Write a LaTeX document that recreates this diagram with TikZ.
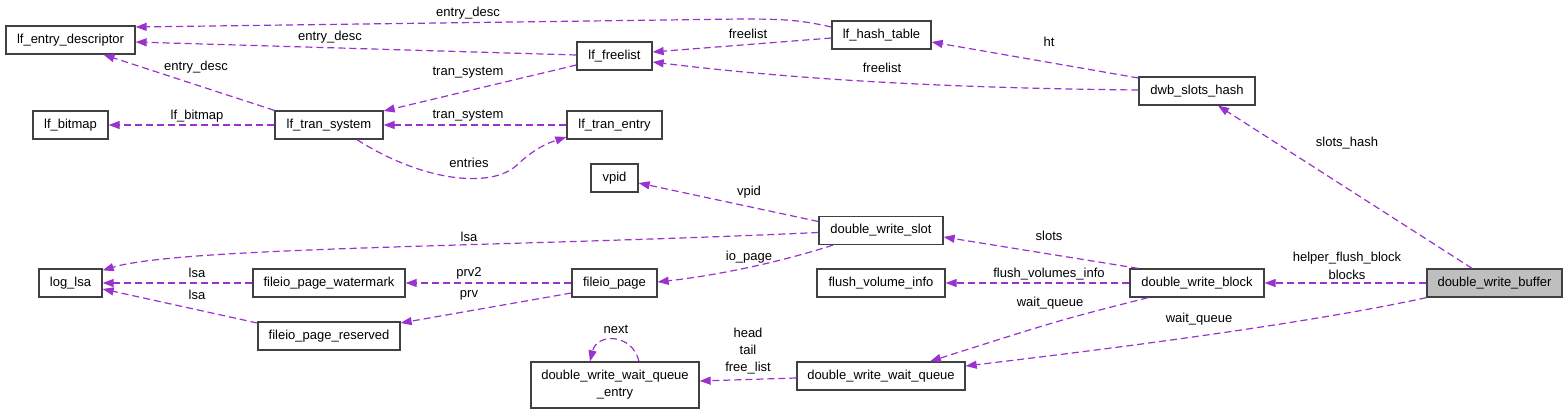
\documentclass[tikz,border=0pt]{standalone}
\usepackage{fontspec}
\setmainfont{Liberation Sans}
\usetikzlibrary{arrows.meta,calc}
\definecolor{edgec}{HTML}{9A32CD}
\definecolor{boxc}{HTML}{404040}
\definecolor{hl}{HTML}{BFBFBF}
\begin{document}
\begin{tikzpicture}[x=1pt,y=-1pt,font=\fontsize{13}{15}\selectfont,
  box/.style={draw=boxc,line width=1.3pt,minimum height=28pt,inner sep=0pt,fill=white},
  edge/.style={draw=edgec,line width=1.2pt,dash pattern=on 7pt off 4pt,-{Triangle[length=11pt,width=8pt,fill=edgec]}},
  lbl/.style={inner sep=0pt,text=black,align=center}]
\useasboundingbox[fill=white] (0,0) rectangle (1568,413);
% nodes
\node[box,minimum width=129pt] (led) at (70.5,40) {lf\_entry\_descriptor};
\node[box,minimum width=75pt] (lbm) at (70.5,125) {lf\_bitmap};
\node[box,minimum width=108pt] (lts) at (329,125) {lf\_tran\_system};
\node[box,minimum width=75pt] (lfl) at (614.5,56) {lf\_freelist};
\node[box,minimum width=95pt] (lte) at (614.5,125) {lf\_tran\_entry};
\node[box,minimum width=99pt] (lht) at (881.5,35) {lf\_hash\_table};
\node[box,minimum width=116pt] (dsh) at (1197,91) {dwb\_slots\_hash};
\node[box,minimum width=63pt] (lsa) at (70.5,283) {log\_lsa};
\node[box,minimum width=152pt] (fpw) at (329,283) {fileio\_page\_watermark};
\node[box,minimum width=142pt] (fpr) at (329,336) {fileio\_page\_reserved};
\node[box,minimum width=47pt] (vpid) at (614.5,178) {vpid};
\node[box,minimum width=85pt] (fp) at (614.5,283) {fileio\_page};
\node[box,minimum width=124pt] (dws) at (881,230.5) {double\_write\_slot};
\node[box,minimum width=128pt] (fvi) at (881,283) {flush\_volume\_info};
\node[box,minimum width=134pt] (dwb) at (1197,283) {double\_write\_block};
\node[box,minimum width=135pt,fill=hl] (dwbuf) at (1494.5,283) {double\_write\_buffer};
\node[box,minimum width=168pt] (dwq) at (881,376) {double\_write\_wait\_queue};
\node[box,minimum width=168pt,minimum height=46pt,align=center,font=\fontsize{13}{17}\selectfont] (dwqe) at (615,385) {double\_write\_wait\_queue\\\_entry};
% edges
\draw[edge] ($(lht.west)+(0,-8)$) .. controls (800,20) and (785,19) .. (740,19) -- ($(led.east)+(0,-13)$);
\node[lbl] at (468,13) {entry\_desc};
\draw[edge] ($(lfl.west)+(0,-1)$) -- ($(led.east)+(0,2)$);
\node[lbl] at (330,37) {entry\_desc};
\draw[edge] (lts.north west) -- ($(led.south)+(33,0)$);
\node[lbl] at (196,67) {entry\_desc};
\draw[edge] ($(lht.west)+(0,3)$) -- ($(lfl.east)+(0,-4)$);
\node[lbl] at (748,34) {freelist};
\draw[edge] ($(dsh.west)+(0,-1)$) .. controls (950,88) and (800,80) .. ($(lfl.east)+(0,6)$);
\node[lbl] at (882,68) {freelist};
\draw[edge] ($(dsh.west)+(0,-13)$) -- ($(lht.east)+(0,7)$);
\node[lbl] at (1049,42) {ht};
\draw[edge] ($(lfl.west)+(0,9)$) -- ($(lts.east)+(0,-14)$);
\node[lbl] at (468,73) {tran\_system};
\draw[edge] (lte.west) -- (lts.east);
\node[lbl] at (468,116) {tran\_system};
\draw[edge] (lts.west) -- (lbm.east);
\node[lbl] at (197,116) {lf\_bitmap};
\draw[edge] ($(lts.south)+(28,0)$) .. controls (420,180) and (490,190) .. (517,165) .. controls (535,148) and (548,143) .. ($(lte.west)+(0,12)$);
\node[lbl] at (469,163) {entries};
\draw[edge] ($(dws.west)+(0,-9)$) -- ($(vpid.east)+(0,5)$);
\node[lbl] at (749,192) {vpid};
\draw[edge] ($(dws.west)+(0,2)$) .. controls (500,247) and (180,247) .. ($(lsa.north east)+(0,2)$);
\node[lbl] at (469,237) {lsa};
\draw[edge] ($(dws.south)+(-48,0)$) .. controls (780,262) and (720,275) .. ($(fp.east)+(0,-1)$);
\node[lbl] at (749,257) {io\_page};
\draw[edge] (fp.west) -- (fpw.east);
\node[lbl] at (469,273) {prv2};
\draw[edge] ($(fp.west)+(0,10)$) -- ($(fpr.east)+(0,-13)$);
\node[lbl] at (469,295) {prv};
\draw[edge] (fpw.west) -- (lsa.east);
\node[lbl] at (197,273) {lsa};
\draw[edge] ($(fpr.west)+(0,-13)$) -- ($(lsa.east)+(0,6)$);
\node[lbl] at (197,295) {lsa};
\draw[edge] ($(dwb.north)+(-59,0)$) -- ($(dws.east)+(0,6.5)$);
\node[lbl] at (1049,236) {slots};
\draw[edge] (dwb.west) -- (fvi.east);
\node[lbl] at (1049,274) {flush\_volumes\_info};
\draw[edge] ($(dwb.south)+(-49,0)$) .. controls (1060,320) .. ($(dwq.north)+(49,0)$);
\node[lbl] at (1050,303) {wait\_queue};
\draw[edge] (dwbuf.west) -- (dwb.east);
\node[lbl,font=\fontsize{13}{18}\selectfont] at (1347,266) {helper\_flush\_block\\blocks};
\draw[edge] ($(dwbuf.north)+(-22.5,0)$) -- ($(dsh.south)+(21,0)$);
\node[lbl] at (1347,143) {slots\_hash};
\draw[edge] (dwbuf.south west) .. controls (1300,325) and (1100,350) .. ($(dwq.east)+(0,-10)$);
\node[lbl] at (1199,319) {wait\_queue};
\draw[edge] ($(dwq.west)+(0,2)$) -- ($(dwqe.east)+(0,-4)$);
\node[lbl,font=\fontsize{13}{17}\selectfont] at (748,351) {head\\tail\\free\_list};
\draw[edge] ($(dwqe.north)+(24,0)$) .. controls (632,333) and (597,333) .. ($(dwqe.north)+(-25,0)$);
\node[lbl] at (616,329) {next};
\end{tikzpicture}
\end{document}
